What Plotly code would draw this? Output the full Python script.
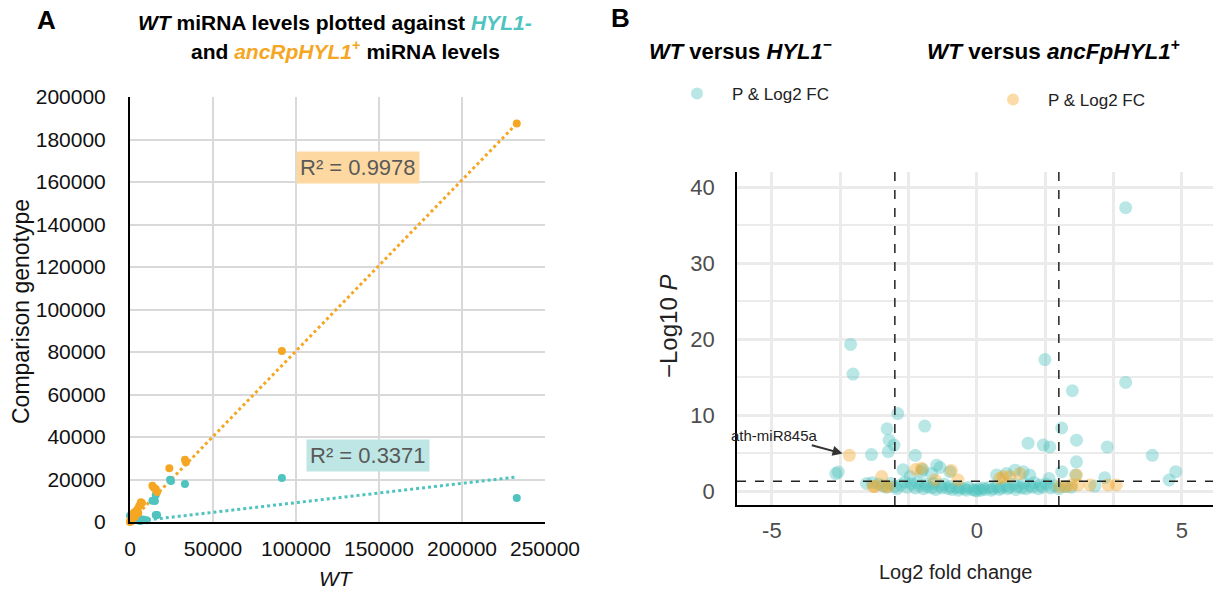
import plotly.graph_objects as go

# ---------------- Panel A data ----------------
anc_wt = [233000, 91500, 33100, 33700, 23700, 16300, 15500, 14500, 13500, 7200, 6600,
          5600, 4600, 3800, 2600, 2000, 1600, 1200, 800, 400, 200, 0, 3000, 5000, 1000]
anc_cmp = [187500, 80500, 29300, 28100, 25300, 14100, 15500, 16000, 17100, 8900, 9300,
           7700, 6100, 5200, 4600, 3800, 3300, 2400, 1400, 900, 500, 0, 2500, 4200, 600]
hyl_wt = [233000, 91500, 33100, 24700, 24100, 15500, 15000, 13500, 16300, 15500, 5400,
          3400, 0, 1000, 2000, 3000, 6000, 8000, 10000, 500, 4000, 7000]
hyl_cmp = [11300, 20700, 17900, 19300, 19900, 12700, 9900, 10000, 3300, 3300, 1700,
           3800, 3000, 1500, 2500, 1000, 500, 1200, 800, 300, 2000, 700]
trend_x = [0, 233000]
anc_trend = [0, 187500]
hyl_trend = [0, 21200]
anc_r2 = "R² = 0.9978"
hyl_r2 = "R² = 0.3371"

# ---------------- Panel B data ----------------
hyl_fc = [3.63, -3.08, -3.02, 1.66, 3.63, 2.33, -1.93, -2.19, -1.27, 2.07, -2.14, -2.02, 1.25,
          1.62, 1.78, 2.43, 3.18, -2.16, -2.57, -1.50, 4.28, 2.43, -3.38, -3.44, -1.80, -0.98,
          -0.90, -1.32, -1.35, -1.10, -0.66, 0.48, 0.72, 0.93, 1.13, 1.29, 2.07, 4.85, 4.69,
          3.12, 1.76, 2.41, 2.88, -1.63, -2.69,
          -2.55, -2.40, -2.30, -2.20, -2.10, -2.00, -1.95, -1.85, -1.75, -1.70, -1.60, -1.50,
          -1.45, -1.40, -1.30, -1.25, -1.20, -1.10, -1.05, -1.00, -0.90, -0.85, -0.80, -0.70,
          -0.65, -0.60, -0.50, -0.45, -0.40, -0.30, -0.25, -0.20, -0.10, -0.05, 0.00, 0.05,
          0.10, 0.15, 0.20, 0.30, 0.35, 0.40, 0.50, 0.55, 0.60, 0.70, 0.75, 0.80, 0.90, 0.95,
          1.00, 1.10, 1.15, 1.20, 1.30, 1.35, 1.40, 1.50, 1.55, 1.60, 1.70, 1.80, 1.90, 2.00,
          2.15, 2.30]
hyl_p = [37.3, 19.3, 15.4, 17.3, 14.3, 13.2, 10.2, 8.2, 8.55, 8.3, 6.7, 6.05, 6.3,
         6.05, 5.8, 6.7, 5.8, 5.2, 4.8, 4.7, 4.7, 3.85, 2.5, 2.3, 2.8, 3.4,
         3.1, 2.85, 2.55, 2.3, 2.55, 2.1, 2.3, 2.75, 2.55, 2.1, 2.55, 2.55, 1.45,
         1.75, 1.65, 2.1, 0.65, 1.9, 1.0,
         1.1, 0.9, 0.7, 0.5, 1.0, 0.6, 0.3, 0.8, 1.2, 0.5, 0.9, 0.4,
         1.1, 0.7, 0.3, 0.9, 0.6, 0.4, 1.0, 0.2, 0.7, 0.4, 0.9, 0.3,
         0.6, 0.2, 0.5, 0.1, 0.4, 0.3, 0.1, 0.5, 0.2, 0.1, 0.0, 0.3,
         0.1, 0.4, 0.2, 0.5, 0.1, 0.3, 0.6, 0.2, 0.4, 0.7, 0.3, 0.5, 0.9, 0.2,
         0.6, 0.4, 1.0, 0.3, 0.7, 0.5, 1.1, 0.3, 0.8, 0.5, 0.9, 0.4, 0.7, 0.3,
         0.6, 0.5]
anc_fc = [-3.11, -2.32, -2.53, -2.24, -2.49, -2.16, -1.49, -1.35, -1.02, -0.62, -0.46, 0.56,
          0.64, 0.80, 1.05, 2.02, 2.19, 2.43, 2.47, 2.31, 2.76, 3.20, 3.40]
anc_p = [4.7, 1.9, 0.6, 0.6, 0.6, 0.6, 2.85, 3.0, 1.45, 2.7, 1.45, 1.65,
         1.9, 1.9, 2.3, 0.6, 0.6, 2.1, 0.8, 0.8, 0.8, 0.8, 0.8]
fc_cutoffs = [-2, 2]
p_cutoff = 1.3
label_gene = "ath-miR845a"
label_fc, label_p = -3.11, 4.7
fc_ticks = [-5, 0, 5]
fc_ticktext = ["-5", "0", "5"]
p_ticks = [0, 10, 20, 30, 40]

TEAL = "#4ec3bf"
ORANGE = "#f5a623"
FONT = "Liberation Sans, Arial, sans-serif"
W, H = 1217, 592


def px(x):
    return x / W


def py(y):
    return 1 - y / H


fig = go.Figure()

# ---- Panel A ----
fig.add_trace(go.Scatter(x=trend_x, y=hyl_trend, mode="lines", xaxis="x", yaxis="y",
                         line=dict(color=TEAL, width=3, dash="dot"), showlegend=False))
fig.add_trace(go.Scatter(x=trend_x, y=anc_trend, mode="lines", xaxis="x", yaxis="y",
                         line=dict(color=ORANGE, width=3, dash="dot"), showlegend=False))
fig.add_trace(go.Scatter(x=hyl_wt, y=hyl_cmp, mode="markers", xaxis="x", yaxis="y",
                         marker=dict(color=TEAL, size=8), cliponaxis=False, showlegend=False))
fig.add_trace(go.Scatter(x=anc_wt, y=anc_cmp, mode="markers", xaxis="x", yaxis="y",
                         marker=dict(color=ORANGE, size=8), cliponaxis=False, showlegend=False))

# ---- Panel B ----
fig.add_trace(go.Scatter(x=hyl_fc, y=hyl_p, mode="markers", xaxis="x2", yaxis="y2",
                         name="P & Log2 FC", legend="legend",
                         marker=dict(color=TEAL, size=13, opacity=0.4, line=dict(width=0))))
fig.add_trace(go.Scatter(x=anc_fc, y=anc_p, mode="markers", xaxis="x2", yaxis="y2",
                         name="P & Log2 FC", legend="legend2",
                         marker=dict(color=ORANGE, size=13, opacity=0.4, line=dict(width=0))))

shapes = []
for c in fc_cutoffs:
    shapes.append(dict(type="line", xref="x2", yref="y2 domain", x0=c, x1=c, y0=0, y1=1,
                       line=dict(color="#222", width=1.5, dash="dash")))
shapes.append(dict(type="line", xref="x2 domain", yref="y2", x0=0, x1=1, y0=p_cutoff, y1=p_cutoff,
                   line=dict(color="#222", width=1.5, dash="dash")))


def note(text, x, y, size, color="black", angle=0):
    return dict(text=text, x=px(x), y=py(y), xref="paper", yref="paper", showarrow=False,
                xanchor="center", yanchor="middle", textangle=angle,
                font=dict(size=size, color=color))


annotations = [
    note("<b>A</b>", 46, 20, 26),
    note("<b><i>WT</i> miRNA levels plotted against <i><span style='color:%s'>HYL1-</span></i></b>" % TEAL,
         335, 22, 21),
    note("<b>and <i><span style='color:%s'>ancRpHYL1</span></i><span style='color:%s'><sup>+</sup></span>"
         " miRNA levels</b>" % (ORANGE, ORANGE), 345, 50, 21),
    note("Comparison genotype", 21, 312, 23, "#111", -90),
    note("<i>WT</i>", 336, 578, 21, "#111"),
    dict(text=anc_r2, x=137300, y=167000, xref="x", yref="y", showarrow=False,
         xanchor="center", yanchor="middle",
         bgcolor="#fdd9a1", borderpad=3, font=dict(size=22, color="#595959")),
    dict(text=hyl_r2, x=143400, y=31500, xref="x", yref="y", showarrow=False,
         xanchor="center", yanchor="middle",
         bgcolor="#bde6e4", borderpad=3, font=dict(size=22, color="#595959")),
    note("<b>B</b>", 620, 18, 26),
    note("<b><i>WT</i> versus <i>HYL1</i><sup>−</sup></b>", 740, 50, 22),
    note("<b><i>WT</i> versus <i>ancFpHYL1</i><sup>+</sup></b>", 1053, 50, 22.5),
    note("−Log10 <i>P</i>", 668, 327, 24, "#222", -90),
    note("Log2 fold change", 955, 572, 20, "#222"),
    dict(text=label_gene, x=label_fc, y=label_p, xref="x2", yref="y2", showarrow=True,
         ax=-75, ay=-20, arrowhead=2, arrowsize=1, arrowwidth=2, arrowcolor="#333",
         standoff=7, font=dict(size=15, color="#222")),
]

fig.update_layout(
    width=W, height=H, margin=dict(l=0, r=0, t=0, b=0, autoexpand=False),
    paper_bgcolor="white", plot_bgcolor="white",
    font=dict(family=FONT),
    shapes=shapes, annotations=annotations,
    xaxis=dict(domain=[px(130), px(545)], anchor="y", range=[0, 250000],
               tickvals=[0, 50000, 100000, 150000, 200000, 250000],
               tickformat="d", showgrid=True, gridcolor="#d9d9d9", gridwidth=2, zeroline=False,
               showline=True, linecolor="black", linewidth=2, ticks="", ticklabelstandoff=7,
               tickfont=dict(size=21, color="#111"), automargin=False),
    yaxis=dict(domain=[py(522), py(97)], anchor="x", range=[0, 200000], dtick=20000, tickformat="d",
               showgrid=True, gridcolor="#d9d9d9", gridwidth=2, zeroline=False,
               showline=True, linecolor="black", linewidth=2, ticks="", ticklabelstandoff=18,
               tickfont=dict(size=21, color="#111"), automargin=False),
    xaxis2=dict(domain=[px(737), px(1213)], anchor="y2", range=[-5.85, 5.76],
                tickvals=fc_ticks, ticktext=fc_ticktext,
                showgrid=True, gridcolor="#ebebeb", gridwidth=3, zeroline=False,
                minor=dict(tickvals=[-10 / 3, -5 / 3, 5 / 3, 10 / 3], showgrid=True, gridcolor="#ebebeb",
                           gridwidth=3, ticks=""),
                showline=True, linecolor="black", linewidth=1.5, ticks="", ticklabelstandoff=5,
                tickfont=dict(size=22, color="#4d4d4d"), automargin=False),
    yaxis2=dict(domain=[py(505), py(172)], anchor="x2", range=[-1.84, 42.0], tickvals=p_ticks,
                showgrid=True, gridcolor="#ebebeb", gridwidth=3, zeroline=False,
                minor=dict(dtick=5, showgrid=True, gridcolor="#ebebeb", gridwidth=2, ticks=""),
                showline=True, linecolor="black", linewidth=1.5, ticks="", ticklabelstandoff=16,
                tickfont=dict(size=22, color="#4d4d4d"), automargin=False),
    legend=dict(x=px(662), y=py(94), xanchor="left", yanchor="middle", bgcolor="rgba(0,0,0,0)",
                font=dict(size=17, color="#222"), itemsizing="constant", itemwidth=60),
    legend2=dict(x=px(978), y=py(100), xanchor="left", yanchor="middle", bgcolor="rgba(0,0,0,0)",
                 font=dict(size=17, color="#222"), itemsizing="constant", itemwidth=60),
)

fig.write_html("out.html", config={"displayModeBar": False},
               post_script="document.body.style.margin='0px';")
